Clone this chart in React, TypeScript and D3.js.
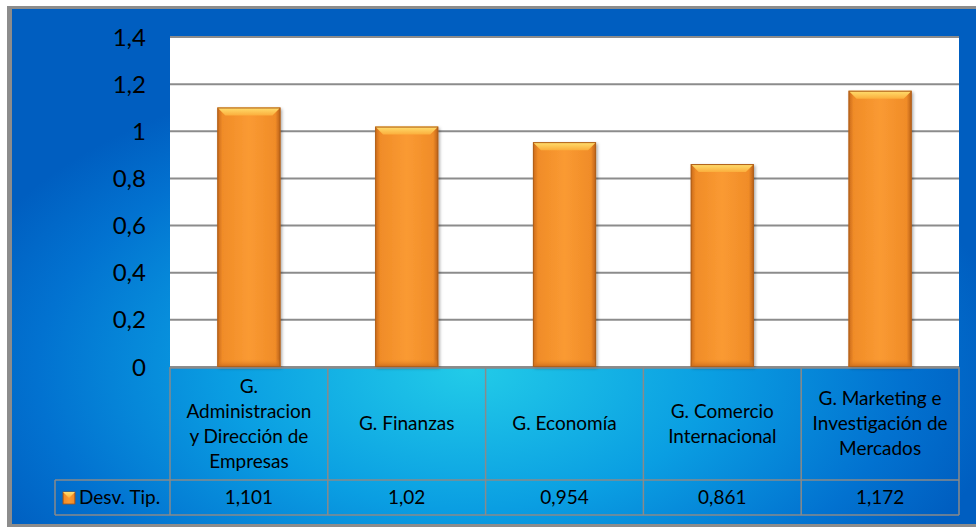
import React from "react";
import * as d3 from "d3";

const categories: string[][] = [
  ["G.", "Administracion", "y Dirección de", "Empresas"],
  ["G. Finanzas"],
  ["G. Economía"],
  ["G. Comercio", "Internacional"],
  ["G. Marketing e", "Investigación de", "Mercados"],
];
const values: number[] = [1.101, 1.02, 0.954, 0.861, 1.172];
const valueLabels: string[] = ["1,101", "1,02", "0,954", "0,861", "1,172"];
const yTicks: number[] = [0, 0.2, 0.4, 0.6, 0.8, 1, 1.2, 1.4];
const seriesName = "Desv. Tip.";

const W = 976;
const H = 527;
const FONT = "Lato, 'Open Sans', sans-serif";

export default function App() {
  const left = 170;
  const right = 959;
  const top = 37;
  const bottom = 367;
  const headerBottom = 480;
  const rowBottom = 515;
  const legendLeft = 55;

  const keys = categories.map((_, i) => String(i));
  const x = d3.scaleBand<string>().domain(keys).range([left, right]).paddingInner(0.6).paddingOuter(0.3);
  const y = d3.scaleLinear().domain([0, 1.4]).range([bottom, top]);
  const step = (right - left) / categories.length;
  const colX = (i: number) => left + i * step;
  const fmt = (v: number) => String(v).replace(".", ",");

  return (
    <svg
      width={W}
      height={H}
      style={{ position: "absolute", left: 0, top: 0, display: "block" }}
      fontFamily={FONT}
    >
      <defs>
        <radialGradient
          id="bg"
          gradientUnits="userSpaceOnUse"
          cx={470}
          cy={370}
          r={1}
          gradientTransform="translate(470,370) scale(540,310) translate(-470,-370)"
        >
          <stop offset="0" stopColor="#22cbe8" />
          <stop offset="0.45" stopColor="#0a9ee2" />
          <stop offset="0.8" stopColor="#0272d0" />
          <stop offset="1" stopColor="#005ec0" />
        </radialGradient>
        <linearGradient id="barH" x1="0" x2="1" y1="0" y2="0">
          <stop offset="0" stopColor="#c8681a" />
          <stop offset="0.08" stopColor="#f08c28" />
          <stop offset="0.5" stopColor="#fa9a32" />
          <stop offset="0.92" stopColor="#f08c28" />
          <stop offset="1" stopColor="#b85e18" />
        </linearGradient>
        <linearGradient id="bevelTop" x1="0" x2="0" y1="0" y2="1">
          <stop offset="0" stopColor="#ffe070" />
          <stop offset="1" stopColor="#fbae3c" />
        </linearGradient>
        <linearGradient id="barBottom" x1="0" x2="0" y1="0" y2="1">
          <stop offset="0" stopColor="#f08c28" stopOpacity="0" />
          <stop offset="1" stopColor="#c86a1c" />
        </linearGradient>
        <filter id="shadow" x="-20%" y="-20%" width="140%" height="140%">
          <feDropShadow dx="1.5" dy="1.5" stdDeviation="1.5" floodColor="#000" floodOpacity="0.35" />
        </filter>
      </defs>

      {/* frame */}
      <rect x={0} y={0} width={W} height={H} fill="#ffffff" />
      <rect x={7} y={6} width={W - 7} height={H - 6} fill="#8c8c8c" />
      <rect x={12} y={9} width={W - 12} height={H - 12} fill="url(#bg)" />

      {/* plot area */}
      <rect x={left} y={top} width={right - left} height={bottom - top} fill="#ffffff" />
      {yTicks.map((t) => (
        <line
          key={t}
          x1={left}
          x2={right}
          y1={y(t)}
          y2={y(t)}
          stroke="#8c8c8c"
          strokeWidth={2}
        />
      ))}

      {/* y tick labels */}
      {yTicks.map((t) => (
        <text
          key={t}
          x={146}
          y={y(t)}
          dy="0.36em"
          textAnchor="end"
          fontSize={24}
          fill="#000"
        >
          {fmt(t)}
        </text>
      ))}

      {/* bars */}
      {values.map((v, i) => {
        const bx = x(keys[i])!;
        const bw = x.bandwidth();
        const by = y(v);
        const bh = bottom - by;
        const bev = 8;
        return (
          <g key={i}>
            <rect x={bx} y={by} width={bw} height={bh} fill="url(#barH)" filter="url(#shadow)" />
            <rect x={bx} y={bottom - 8} width={bw} height={8} fill="url(#barBottom)" />
            <path
              d={`M${bx},${by} L${bx + bw},${by} L${bx + bw - bev},${by + bev} L${bx + bev},${by + bev} Z`}
              fill="url(#bevelTop)"
            />
            <rect x={bx + 0.5} y={by + 0.5} width={bw - 1} height={bh - 1} fill="none" stroke="#b0601a" strokeWidth={1} />
          </g>
        );
      })}

      {/* table */}
      <g stroke="#8a8a8a" strokeWidth={1.5} fill="none">
        <line x1={left} x2={right} y1={bottom + 1} y2={bottom + 1} />
        <line x1={legendLeft} x2={right} y1={headerBottom} y2={headerBottom} />
        <line x1={legendLeft} x2={right} y1={rowBottom} y2={rowBottom} />
        <line x1={legendLeft} x2={legendLeft} y1={headerBottom} y2={rowBottom} />
        {d3.range(categories.length + 1).map((i) => (
          <line key={i} x1={colX(i)} x2={colX(i)} y1={bottom} y2={rowBottom} />
        ))}
      </g>

      {/* category labels */}
      {categories.map((lines, i) => {
        const cx = colX(i) + step / 2;
        const cy = (bottom + headerBottom) / 2;
        const lh = 25;
        const y0 = cy - ((lines.length - 1) * lh) / 2;
        return (
          <text key={i} textAnchor="middle" fontSize={19} fill="#000">
            {lines.map((l, j) => (
              <tspan key={j} x={cx} y={y0 + j * lh} dy="0.36em">
                {l}
              </tspan>
            ))}
          </text>
        );
      })}

      {/* value row */}
      {valueLabels.map((l, i) => (
        <text
          key={i}
          x={colX(i) + step / 2}
          y={(headerBottom + rowBottom) / 2}
          dy="0.36em"
          textAnchor="middle"
          fontSize={19}
          fill="#000"
        >
          {l}
        </text>
      ))}

      {/* legend key */}
      <rect x={63} y={492} width={12} height={12} fill="url(#barH)" stroke="#a0541a" strokeWidth={0.8} />
      <path d="M63,492 L75,492 L69,498 Z" fill="url(#bevelTop)" />
      <text x={79} y={(headerBottom + rowBottom) / 2} dy="0.36em" fontSize={19} fill="#000">
        {seriesName}
      </text>
    </svg>
  );
}
